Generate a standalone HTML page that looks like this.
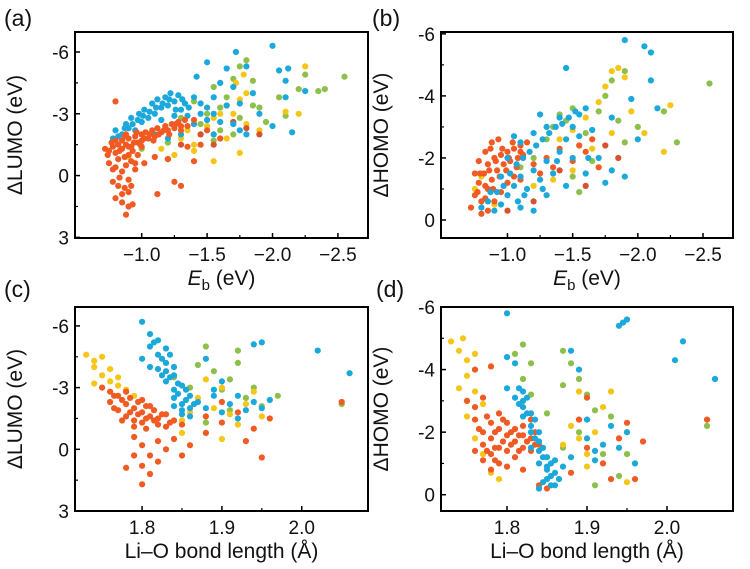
<!DOCTYPE html>
<html><head><meta charset="utf-8">
<style>
html,body{margin:0;padding:0;background:#fff;}
svg{display:block;font-family:"Liberation Sans",sans-serif;}
</style></head>
<body>
<svg id="fig" width="750" height="569" viewBox="0 0 750 569" xmlns="http://www.w3.org/2000/svg">
<rect width="750" height="569" fill="#fff"/>
</svg>
<script>
// ---- Data (estimated) ----
const aOrange=[[-0.72,-1.3],[-0.75,-1.2],[-0.78,-1.4],[-0.8,-1.1],[-0.82,-1.5],[-0.85,-1.3],[-0.85,-1.7],[-0.88,-1.5],[-0.9,-1.8],[-0.92,-1.4],[-0.95,-1.9],[-0.97,-1.6],[-1.0,-2.0],[-1.0,-1.7],[-1.03,-2.1],[-1.05,-1.8],[-1.08,-2.2],[-1.1,-1.9],[-1.12,-2.3],[-1.15,-2.1],[-1.18,-2.4],[-1.2,-2.2],[-1.23,-2.5],[-1.25,-2.3],[-1.28,-2.6],[-1.3,-2.4],[-1.33,-2.7],[-0.88,-2.0],[-0.93,-1.2],[-1.0,-1.4],[-0.8,-1.7],[-0.9,-1.0],[-0.75,-0.6],[-0.78,-0.3],[-0.82,-0.8],[-0.85,-0.2],[-0.88,-0.5],[-0.9,0.2],[-0.92,-0.7],[-0.95,-0.3],[-0.97,-1.0],[-1.02,-0.6],[-0.85,0.9],[-0.87,0.6],[-0.9,0.8],[-0.82,0.5],[-0.8,1.1],[-0.9,1.5],[-0.85,1.3],[-0.93,1.4],[-0.88,1.9],[-1.1,-0.9],[-1.2,-0.8],[-1.3,0.5],[-1.25,0.3],[-0.8,-3.6],[-1.45,-1.5],[-1.5,-2.2],[-1.6,-1.8],[-1.4,-0.7],[-1.12,0.9],[-1.35,-1.4],
[-0.74,-1.0],[-0.77,-1.6],[-0.83,-1.2],[-0.87,-1.9],[-0.9,-1.4],[-0.94,-1.6],[-0.96,-2.1],[-0.99,-1.5],[-1.02,-1.8],[-1.06,-2.0],[-1.09,-1.7],[-1.13,-2.0],[-1.17,-2.2],[-1.21,-2.0],[-1.26,-2.5],[-1.3,-2.2],[-1.35,-2.4],[-1.4,-2.7],[-0.8,-0.4],[-0.83,0.1],[-0.87,-0.9],[-0.95,-0.6],[-0.78,0.3],[-0.92,0.5]];
const aBlue=[[-0.78,-1.8],[-0.8,-2.2],[-0.85,-2.0],[-0.88,-2.5],[-0.9,-2.3],[-0.92,-2.8],[-0.95,-2.2],[-0.98,-3.0],[-1.0,-2.6],[-1.02,-3.2],[-1.05,-2.8],[-1.08,-3.5],[-1.1,-3.0],[-1.12,-3.7],[-1.15,-3.3],[-1.18,-3.8],[-1.2,-3.4],[-1.22,-4.0],[-1.25,-3.6],[-1.28,-3.9],[-1.3,-3.2],[-1.33,-3.5],[-1.35,-2.9],[-1.1,-2.0],[-1.2,-1.8],[-1.3,-2.0],[-1.4,-2.5],[-1.45,-3.0],[-1.5,-3.3],[-1.42,-4.8],[-1.5,-5.5],[-1.55,-3.8],[-1.6,-4.5],[-1.65,-5.2],[-1.7,-4.3],[-1.72,-6.0],[-1.75,-3.5],[-1.8,-5.3],[-1.85,-4.0],[-1.7,-2.5],[-1.75,-2.2],[-1.6,-2.6],[-1.65,-3.4],[-2.0,-6.3],[-2.05,-5.1],[-2.1,-4.6],[-2.12,-5.2],[-2.1,-3.8],[-2.25,-4.1],[-2.15,-2.1],[-2.0,-2.4],[-1.9,-3.0],[-1.55,-2.0],[-1.8,-2.0],
[-0.82,-1.9],[-0.87,-2.3],[-0.93,-2.5],[-0.97,-2.7],[-1.01,-2.9],[-1.06,-3.1],[-1.11,-3.3],[-1.16,-3.5],[-1.21,-3.7],[-1.26,-3.2],[-1.31,-3.7],[-1.36,-3.3],[-1.4,-3.8],[-1.45,-3.5],[-1.5,-2.7],[-1.55,-3.0],[-1.15,-2.7],[-1.25,-2.9]];
const aGreen=[[-1.4,-3.6],[-1.5,-3.0],[-1.55,-4.3],[-1.6,-3.3],[-1.65,-3.8],[-1.7,-4.7],[-1.75,-5.3],[-1.8,-5.6],[-1.85,-3.4],[-1.9,-3.3],[-1.85,-4.6],[-1.75,-2.8],[-1.6,-2.2],[-1.45,-2.5],[-1.3,-2.8],[-1.2,-1.6],[-1.0,-1.3],[-2.05,-3.8],[-2.2,-4.2],[-2.25,-4.9],[-2.35,-4.1],[-2.4,-4.2],[-2.55,-4.8],[-1.95,-2.6],[-2.1,-2.9],[-1.55,-1.7],[-1.7,-2.0]];
const aYellow=[[-1.3,-1.8],[-1.35,-2.2],[-1.4,-1.5],[-1.45,-2.0],[-1.5,-2.4],[-1.55,-2.8],[-1.6,-3.0],[-1.65,-3.4],[-1.7,-3.0],[-1.75,-3.7],[-1.8,-4.0],[-1.72,-4.5],[-1.78,-4.9],[-1.65,-1.8],[-1.75,-1.1],[-1.55,-0.7],[-1.8,-2.5],[-2.1,-3.1],[-2.2,-3.0],[-2.25,-5.3],[-1.4,-1.2],[-1.25,-1.0],[-1.15,-1.3],[-0.9,-0.9],[-1.9,-2.2]];
const aRed=[[-1.45,-2.0],[-1.7,-2.6],[-1.8,-2.3],[-1.9,-2.0],[-1.55,-1.5],[-1.2,-0.8],[-1.3,-1.5]];

const bOrange=[[-0.72,-0.4],[-0.75,-0.8],[-0.78,-1.2],[-0.8,-0.6],[-0.82,-1.5],[-0.85,-1.0],[-0.85,-1.8],[-0.88,-1.3],[-0.9,-2.0],[-0.92,-1.6],[-0.95,-2.1],[-0.97,-1.8],[-1.0,-2.2],[-1.02,-1.9],[-1.05,-2.3],[-1.08,-2.0],[-1.1,-2.4],[-1.12,-2.1],[-1.15,-2.5],[-0.8,-0.2],[-0.85,-0.3],[-0.9,-0.6],[-0.95,-0.9],[-1.0,-1.2],[-1.05,-1.4],[-1.1,-1.3],[-1.2,-1.8],[-1.25,-1.5],[-1.3,-2.0],[-1.35,-1.7],[-1.4,-2.3],[-1.5,-1.9],[-1.55,-2.4],[-1.6,-2.2],[-1.65,-2.6],[-1.7,-1.7],[-0.78,-1.9],[-0.83,-2.2],[-0.88,-2.5],[-0.75,-1.5],
[-0.77,-0.9],[-0.79,-1.5],[-0.83,-1.1],[-0.86,-1.6],[-0.89,-1.0],[-0.91,-1.9],[-0.94,-1.4],[-0.96,-2.3],[-0.99,-1.6],[-1.01,-2.0],[-1.04,-2.5],[-1.07,-1.7],[-1.1,-2.2],[-0.83,-0.7],[-0.87,-2.3],[-0.93,-2.6]];
const bBlue=[[-0.8,-0.4],[-0.85,-0.6],[-0.9,-0.3],[-0.92,-0.9],[-0.95,-0.5],[-1.0,-0.8],[-1.05,-1.1],[-1.08,-0.6],[-1.1,-1.4],[-1.15,-1.0],[-1.2,-1.6],[-1.25,-1.3],[-1.3,-1.9],[-1.35,-1.5],[-1.4,-2.2],[-1.45,-2.6],[-1.5,-3.0],[-1.55,-3.4],[-1.6,-3.6],[-1.5,-2.0],[-1.6,-1.5],[-1.7,-2.0],[-1.75,-1.2],[-1.8,-1.6],[-1.9,-1.4],[-1.0,-2.0],[-1.1,-2.5],[-1.2,-2.8],[-1.3,-3.0],[-1.4,-3.3],[-1.05,-2.7],[-1.25,-3.4],[-1.45,-4.9],[-1.9,-5.8],[-2.05,-5.6],[-2.1,-5.4],[-1.95,-3.9],[-2.1,-4.5],[-2.15,-3.6],[-2.0,-2.6],[-1.1,-0.4],[-1.3,-0.8],[-1.45,-1.1],[-1.2,-0.3],[-0.95,-1.4],[-1.65,-2.9],[-1.8,-3.3],
[-1.02,-1.5],[-1.07,-1.8],[-1.12,-2.0],[-1.17,-2.2],[-1.22,-2.4],[-1.27,-2.6],[-1.32,-2.8],[-1.37,-3.0],[-1.42,-3.1],[-1.47,-3.3],[-1.52,-3.5],[-0.87,-0.9],[-0.97,-1.1],[-1.13,-0.8],[-1.27,-1.0],[-1.38,-1.9],[-1.55,-2.7],[-1.62,-2.0]];
const bGreen=[[-1.3,-2.6],[-1.35,-3.0],[-1.4,-3.4],[-1.45,-3.2],[-1.5,-3.6],[-1.6,-2.8],[-1.7,-3.5],[-1.75,-4.0],[-1.8,-4.5],[-1.85,-3.2],[-1.9,-2.5],[-2.0,-3.0],[-2.2,-3.5],[-2.3,-2.5],[-2.55,-4.4],[-1.2,-2.0],[-1.1,-1.7],[-1.5,-1.4],[-1.65,-1.9],[-1.55,-0.9],[-1.9,-4.8]];
const bYellow=[[-0.75,-1.0],[-0.8,-1.4],[-1.4,-2.6],[-1.5,-2.9],[-1.6,-3.3],[-1.7,-3.8],[-1.75,-4.3],[-1.8,-4.8],[-1.85,-4.9],[-1.9,-4.6],[-1.65,-2.3],[-1.8,-2.8],[-1.95,-3.5],[-2.05,-2.8],[-2.2,-2.2],[-2.25,-3.7],[-1.2,-1.1],[-1.35,-1.3],[-1.5,-1.6],[-0.9,-0.5]];
const bRed=[[-1.0,-0.3],[-1.2,-0.6],[-1.4,-1.6],[-1.6,-1.1],[-1.75,-2.4],[-1.85,-2.0]];

const cOrange=[[1.76,-2.3],[1.77,-1.9],[1.78,-2.2],[1.78,-1.6],[1.79,-2.0],[1.79,-1.4],[1.80,-1.8],[1.80,-1.3],[1.81,-1.6],[1.81,-2.1],[1.82,-1.5],[1.82,-1.2],[1.83,-1.7],[1.77,-2.6],[1.76,-2.8],[1.75,-3.0],[1.78,-2.8],[1.80,-2.4],[1.84,-1.4],[1.85,-1.2],[1.83,-1.1],[1.79,-1.1],[1.79,-0.6],[1.80,-0.2],[1.81,0.3],[1.80,0.8],[1.81,1.2],[1.82,0.6],[1.83,0.0],[1.82,-0.4],[1.79,0.3],[1.78,0.9],[1.80,1.7],[1.84,-0.5],[1.86,-0.2],[1.85,0.3],[1.88,-0.8],[1.90,-1.3],[1.92,-1.8],[1.94,-1.0],[1.96,-1.5],[1.93,-0.4],[1.95,0.4],[1.90,-2.3],[2.05,-2.3],[1.88,-1.6],
[1.765,-2.0],[1.775,-2.4],[1.785,-1.8],[1.785,-2.5],[1.795,-1.7],[1.795,-2.3],[1.805,-1.5],[1.805,-2.1],[1.815,-1.4],[1.815,-1.9],[1.825,-1.7],[1.835,-1.3],[1.775,-1.4],[1.765,-2.6],[1.805,-1.0]];
const cYellow=[[1.73,-4.6],[1.74,-4.3],[1.74,-4.0],[1.75,-3.6],[1.75,-4.5],[1.76,-3.3],[1.76,-3.9],[1.77,-3.1],[1.77,-3.5],[1.78,-2.9],[1.74,-3.2],[1.79,-2.6],[1.85,-1.4],[1.87,-2.5],[1.89,-2.0],[1.90,-3.0],[1.91,-1.7],[1.93,-2.2],[1.95,-1.6],[1.86,-1.8],[1.88,-3.4],[1.92,-1.2],[1.85,-0.8],[1.90,-0.5],[1.94,-2.8]];
const cBlue=[[1.80,-6.2],[1.81,-5.6],[1.81,-5.0],[1.82,-5.3],[1.82,-4.6],[1.83,-4.2],[1.83,-4.9],[1.82,-3.9],[1.84,-3.6],[1.83,-3.3],[1.84,-2.9],[1.85,-3.1],[1.84,-2.5],[1.85,-2.2],[1.86,-2.6],[1.85,-1.9],[1.86,-2.0],[1.84,-4.0],[1.81,-4.0],[1.80,-4.4],[1.86,-1.6],[1.87,-2.3],[1.88,-2.0],[1.89,-2.6],[1.90,-1.8],[1.91,-2.2],[1.92,-2.6],[1.93,-1.9],[1.94,-2.3],[1.95,-2.0],[1.96,-2.4],[1.94,-5.1],[1.95,-5.2],[2.02,-4.8],[2.06,-3.7],[1.92,-1.5],[1.90,-3.3],[1.88,-4.4],[1.89,-2.9],
[1.815,-5.2],[1.825,-4.4],[1.83,-3.8],[1.835,-3.5],[1.835,-4.6],[1.845,-3.2],[1.845,-2.7],[1.855,-2.4],[1.855,-2.9],[1.865,-2.2],[1.825,-3.6],[1.84,-2.1],[1.85,-1.7]];
const cGreen=[[1.84,-3.5],[1.87,-4.1],[1.88,-5.0],[1.89,-3.8],[1.90,-2.9],[1.91,-3.4],[1.92,-4.2],[1.93,-2.5],[1.94,-3.0],[1.95,-2.1],[1.91,-1.9],[1.88,-1.3],[1.92,-4.8],[2.05,-2.2],[1.86,-3.0],[1.97,-2.6]];

const dOrange=[[1.76,-2.4],[1.77,-2.0],[1.77,-1.6],[1.78,-2.3],[1.78,-1.8],[1.78,-1.3],[1.79,-2.1],[1.79,-1.5],[1.79,-1.0],[1.80,-1.9],[1.80,-2.3],[1.80,-1.4],[1.81,-1.7],[1.81,-2.1],[1.81,-1.2],[1.82,-1.9],[1.82,-1.5],[1.82,-2.2],[1.83,-1.8],[1.83,-1.4],[1.77,-1.1],[1.78,-0.8],[1.80,-0.9],[1.76,-2.8],[1.77,-3.1],[1.79,-2.6],[1.75,-3.0],[1.76,-4.0],[1.78,-4.1],[1.84,-1.6],[1.82,-0.8],[1.83,-2.4],[1.76,-1.4],[1.85,-0.2],[1.84,-0.3],[1.90,-1.5],[1.92,-1.0],[1.94,-1.8],[1.96,-0.5],[1.97,-1.7],[1.93,-0.5],[2.05,-2.4],[1.89,-2.4],[1.90,-3.1],[1.95,-2.3],[1.88,-0.7],
[1.765,-2.1],[1.775,-2.5],[1.775,-1.4],[1.785,-2.0],[1.785,-1.5],[1.795,-2.4],[1.795,-1.7],[1.805,-2.0],[1.805,-1.6],[1.815,-1.9],[1.815,-1.4],[1.825,-1.7],[1.835,-2.0],[1.835,-1.6],[1.785,-1.1]];
const dYellow=[[1.73,-4.9],[1.74,-4.6],[1.745,-5.0],[1.75,-4.3],[1.75,-3.8],[1.76,-4.5],[1.74,-3.4],[1.75,-3.0],[1.76,-3.3],[1.77,-2.9],[1.75,-2.5],[1.77,-1.3],[1.78,-0.7],[1.79,-0.5],[1.76,-1.8],[1.84,-0.2],[1.85,-0.5],[1.87,-1.6],[1.88,-2.2],[1.89,-1.8],[1.90,-1.3],[1.91,-2.0],[1.89,-3.3],[1.90,-0.9],[1.93,-3.3],[1.95,-2.0],[1.95,-0.4],[1.92,-2.8]];
const dBlue=[[1.80,-5.8],[1.80,-4.4],[1.81,-4.2],[1.80,-3.4],[1.81,-3.1],[1.82,-3.3],[1.82,-2.8],[1.82,-2.5],[1.83,-2.2],[1.83,-2.6],[1.83,-2.0],[1.84,-1.7],[1.84,-1.4],[1.85,-1.2],[1.84,-1.0],[1.85,-0.8],[1.85,-0.5],[1.86,-0.3],[1.84,-0.2],[1.86,-0.7],[1.82,-3.0],[1.83,-1.5],[1.86,-1.1],[1.87,-0.9],[1.88,-4.6],[1.90,-1.8],[1.91,-1.4],[1.92,-1.6],[1.93,-2.2],[1.94,-1.5],[1.95,-2.0],[1.91,-1.1],[1.90,-2.4],[1.88,-1.2],[1.94,-5.4],[1.945,-5.5],[1.95,-5.6],[2.01,-4.3],[2.02,-4.9],[2.06,-3.7],[1.89,-4.0],[1.96,-1.0],
[1.815,-3.4],[1.815,-2.9],[1.825,-2.6],[1.825,-3.1],[1.835,-2.4],[1.835,-1.8],[1.845,-1.5],[1.845,-1.2],[1.855,-1.0],[1.855,-0.6],[1.855,-0.3],[1.865,-0.5],[1.85,-0.9],[1.845,-0.4],[1.84,-2.0]];
const dGreen=[[1.81,-4.5],[1.82,-4.8],[1.83,-4.2],[1.82,-3.7],[1.83,-3.2],[1.87,-4.6],[1.88,-4.2],[1.89,-3.7],[1.87,-3.5],[1.90,-3.2],[1.91,-2.7],[1.89,-2.0],[1.92,-1.3],[1.91,-0.3],[1.87,-1.5],[1.93,-2.5],[1.94,-0.6],[2.05,-2.2],[1.85,-2.6],[1.95,-1.3]];

const ebTicks=[-1.0,-1.5,-2.0,-2.5];
const ebTickLabels=["\u22121.0","\u22121.5","\u22122.0","\u22122.5"];
const bondTicks=[1.8,1.9,2.0];
const bondTickLabels=["1.8","1.9","2.0"];
const lumoTicks=[-6,-3,0,3];
const lumoTickLabels=["-6","-3","0","3"];
const homoTicks=[-6,-4,-2,0];
const homoTickLabels=["-6","-4","-2","0"];

const COL={orange:"#f15a22",blue:"#1ba8db",green:"#8dc04b",yellow:"#f5c518",red:"#d5532e"};
const NS="http://www.w3.org/2000/svg";
const svg=document.getElementById('fig');
function mk(tag,attrs,parent){const e=document.createElementNS(NS,tag);for(const k in attrs)e.setAttribute(k,attrs[k]);(parent||svg).appendChild(e);return e;}

function panel(p){
  const g=mk('g',{});
  
  
  const sx=v=>p.x0+(v-p.xd[0])/(p.xd[1]-p.xd[0])*(p.x1-p.x0);
  const sy=v=>p.y0+(v-p.yd[0])/(p.yd[1]-p.yd[0])*(p.y1-p.y0);
  const pts=mk('g',{},g);
  
  
  p.series.forEach(s=>{
    s.data.forEach(d=>{
      const c=mk('circle',{cx:sx(d[0]).toFixed(1),cy:sy(d[1]).toFixed(1),r:3.1,fill:COL[s.c]},pts);
      
      
    });
  });
  const fr=mk('rect',{x:p.x0,y:p.y0,width:p.x1-p.x0,height:p.y1-p.y0,fill:'none',stroke:'#000','stroke-width':2},g);
  
  
  p.xt.forEach((v,i)=>{
    const X=sx(v);
    mk('line',{x1:X,x2:X,y1:p.y1,y2:p.y1-5,stroke:'#000','stroke-width':1.5},g);
    const t=mk('text',{x:X,y:p.y1+23,'font-size':19,'text-anchor':'middle',fill:'#111'},g);
    t.textContent=p.xl[i];
    
    
    if(i<p.xt.length-1){const m=sx((v+p.xt[i+1])/2);mk('line',{x1:m,x2:m,y1:p.y1,y2:p.y1-3,stroke:'#000','stroke-width':1.2},g);}
  });
  p.yt.forEach((v,i)=>{
    const Y=sy(v);
    mk('line',{x1:p.x0,x2:p.x0+5,y1:Y,y2:Y,stroke:'#000','stroke-width':1.5},g);
    const t=mk('text',{x:p.x0-6,y:Y+7,'font-size':19,'text-anchor':'end',fill:'#111'},g);
    t.textContent=p.yl[i];
    
    
    if(i<p.yt.length-1){const m=sy((v+p.yt[i+1])/2);mk('line',{x1:p.x0,x2:p.x0+3,y1:m,y2:m,stroke:'#000','stroke-width':1.2},g);}
  });
  const xt=mk('text',{x:(p.x0+p.x1)/2,y:p.y1+47,'font-size':21,'text-anchor':'middle',fill:'#111'},g);
  
  
  if(p.eb){xt.innerHTML='<tspan font-style="italic">E</tspan><tspan font-size="15" dy="5">b</tspan><tspan dy="-5"> (eV)</tspan>';}
  else xt.textContent='Li\u2013O bond length (\u00C5)';
  const cy=(p.y0+p.y1)/2, cx=p.x0-53;
  const yt=mk('text',{x:cx,y:cy,'font-size':21,'text-anchor':'middle',fill:'#111',transform:`rotate(-90 ${cx} ${cy})`},g);
  yt.textContent=p.ytitle;
  
  
  const lb=mk('text',{x:p.lx,y:p.ly,'font-size':23,fill:'#111'},g);
  lb.textContent='('+p.id+')';
  
  
}

panel({id:'a',x0:75,x1:368,y0:32,y1:238,xd:[-0.49,-2.73],yd:[-6.97,3.03],xt:ebTicks,xl:ebTickLabels,yt:lumoTicks,yl:lumoTickLabels,eb:true,ytitle:'\u0394LUMO (eV)',lx:4,ly:26,
  series:[{c:'green',data:aGreen},{c:'yellow',data:aYellow},{c:'red',data:aRed},{c:'blue',data:aBlue},{c:'orange',data:aOrange}]});
panel({id:'b',x0:441,x1:733,y0:32,y1:238,xd:[-0.49,-2.73],yd:[-6.06,0.58],xt:ebTicks,xl:ebTickLabels,yt:homoTicks,yl:homoTickLabels,eb:true,ytitle:'\u0394HOMO (eV)',lx:372,ly:26,
  series:[{c:'green',data:bGreen},{c:'yellow',data:bYellow},{c:'red',data:bRed},{c:'orange',data:bOrange},{c:'blue',data:bBlue}]});
panel({id:'c',x0:75,x1:368,y0:307,y1:511,xd:[1.716,2.083],yd:[-6.92,3.0],xt:bondTicks,xl:bondTickLabels,yt:lumoTicks,yl:lumoTickLabels,eb:false,ytitle:'\u0394LUMO (eV)',lx:4,ly:297,
  series:[{c:'green',data:cGreen},{c:'yellow',data:cYellow},{c:'blue',data:cBlue},{c:'orange',data:cOrange}]});
panel({id:'d',x0:441,x1:733,y0:307,y1:511,xd:[1.7175,2.0825],yd:[-6.0,0.52],xt:bondTicks,xl:bondTickLabels,yt:homoTicks,yl:homoTickLabels,eb:false,ytitle:'\u0394HOMO (eV)',lx:376,ly:297,
  series:[{c:'green',data:dGreen},{c:'yellow',data:dYellow},{c:'orange',data:dOrange},{c:'blue',data:dBlue}]});
</script>
</body></html>
